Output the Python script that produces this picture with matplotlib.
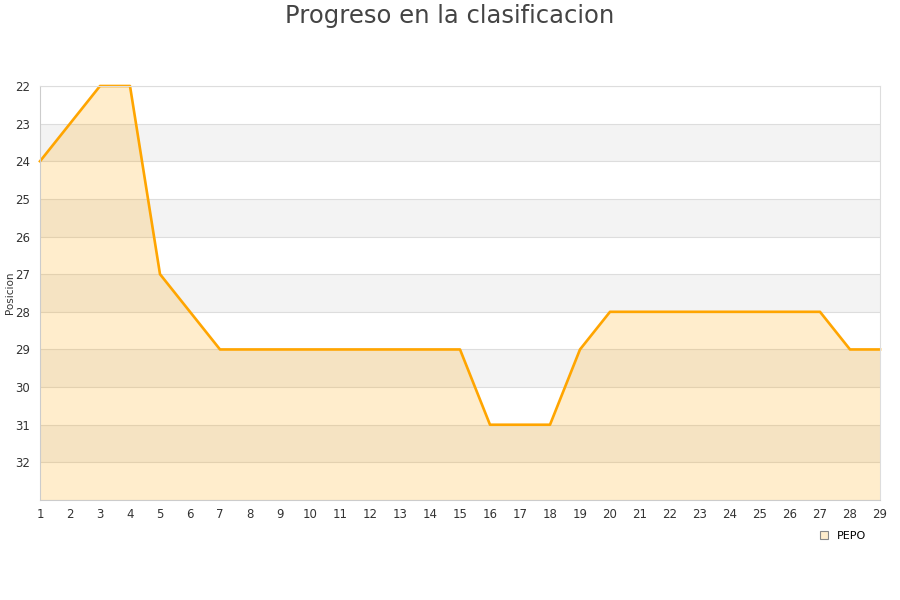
import matplotlib
matplotlib.use("Agg")
import matplotlib.pyplot as plt
from matplotlib.patches import Patch

jornadas = list(range(1, 30))
posiciones = [24, 23, 22, 22, 27, 28, 29, 29, 29, 29, 29, 29, 29, 29, 29,
              31, 31, 31, 29, 28, 28, 28, 28, 28, 28, 28, 28, 29, 29]
equipo = "PEPO"
titulo = "Progreso en la clasificacion"
eje_y = "Posicion"
y_ticks = list(range(22, 33))

fig = plt.figure(figsize=(9, 6), dpi=100)
ax = fig.add_axes([40 / 900, 100 / 600, 840 / 900, 414 / 600])

ax.set_xlim(1, 29)
ax.set_ylim(33, 22)

# alternating grey bands
for y0 in range(23, 33, 2):
    ax.axhspan(y0, y0 + 1, color="#f3f3f3", zorder=0, lw=0)
for y in range(22, 34):
    ax.axhline(y, color="#dddddd", lw=0.8, zorder=0.5)

ax.fill_between(jornadas, posiciones, 33, color="#FFA500", alpha=0.2, lw=0, zorder=1)
ax.plot(jornadas, posiciones, color="#FFA500", lw=1.9, zorder=2, clip_on=False)

ax.set_xticks(jornadas)
ax.set_yticks(y_ticks)
ax.tick_params(axis="both", length=0, labelsize=8.5, colors="#333333", pad=6)
ax.tick_params(axis="y", pad=7)
for s in ax.spines.values():
    s.set_color("#dddddd")
    s.set_linewidth(0.8)
ax.spines["left"].set_color("#cccccc")
ax.spines["bottom"].set_color("#cccccc")

ax.set_ylabel(eje_y, fontsize=7.5, color="#333333")
ax.yaxis.set_label_coords(-25 / 840, 0.5)

fig.text(0.5, 1 - 16 / 600, titulo, ha="center", va="center", fontsize=17.5, color="#444444")

leg = fig.legend(handles=[Patch(facecolor="#FFEDCC", edgecolor="#888888", lw=0.8, label=equipo)],
                 loc="center", bbox_to_anchor=(843 / 900, 1 - 536 / 600), frameon=False,
                 fontsize=8, handlelength=0.7, handleheight=0.7, handletextpad=0.8)

fig.savefig("out.png", dpi=100, facecolor="white")
